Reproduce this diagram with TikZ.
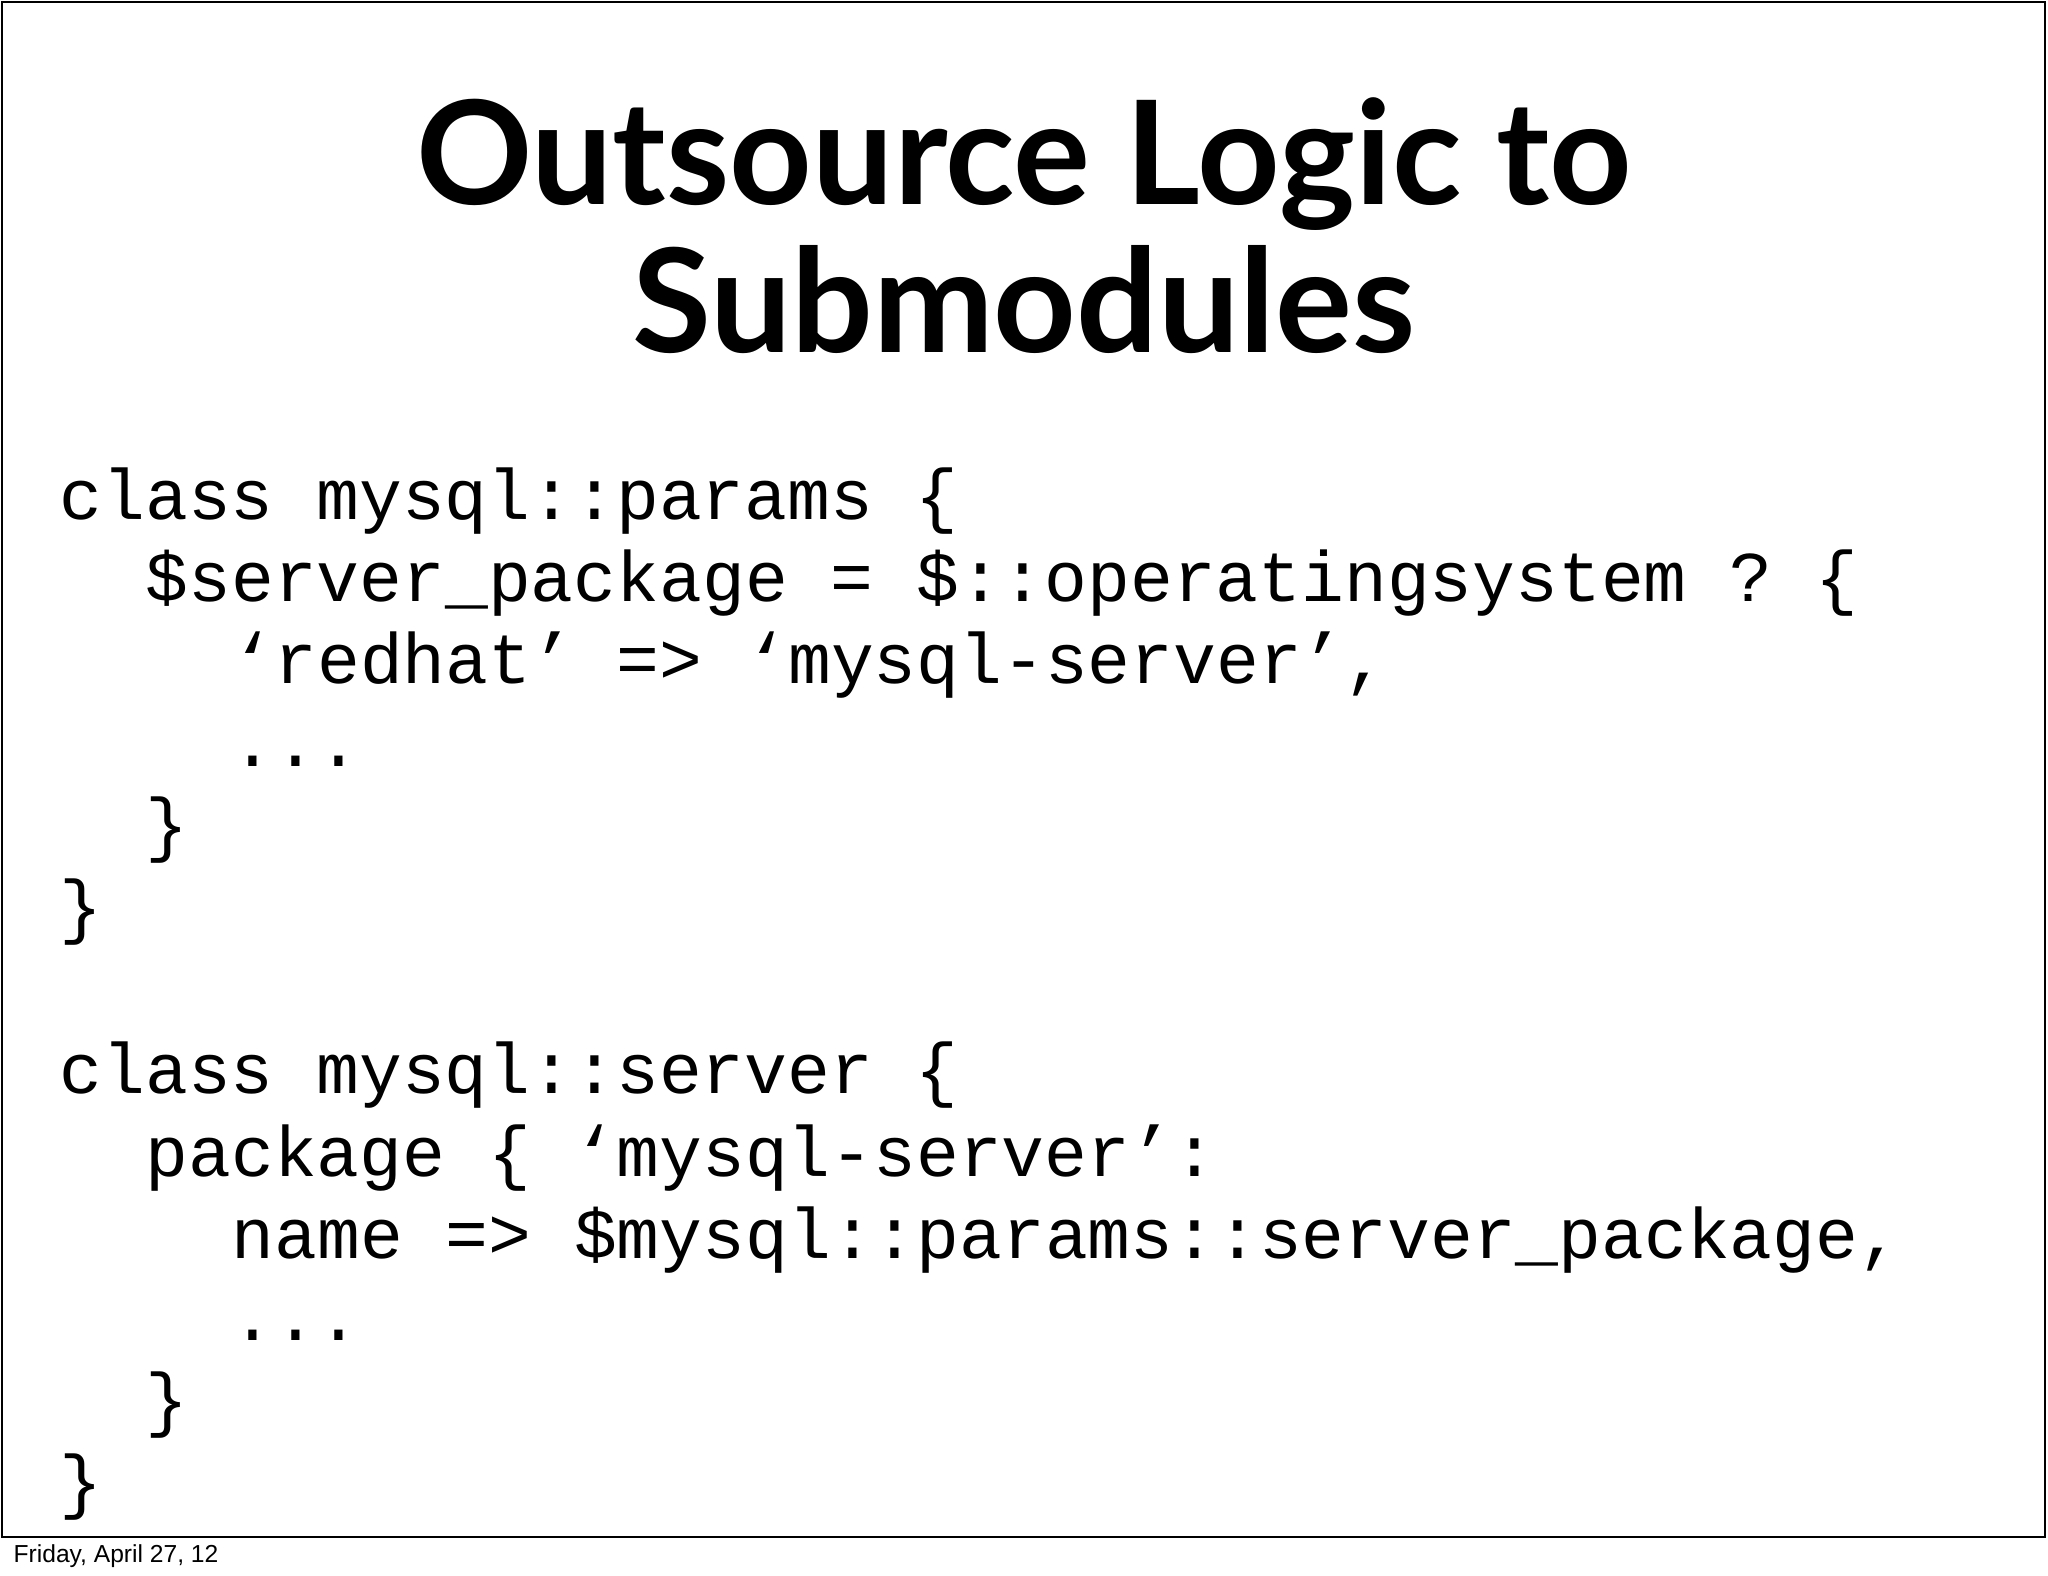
\documentclass[tikz,border=0pt]{standalone}
\usepackage{fontspec}
\setmainfont{Lato}
\setmonofont{Liberation Mono}
\newfontfamily\footfont{Liberation Sans}
\begin{document}
\begin{tikzpicture}[x=1cm,y=1cm,
  codeline/.style={anchor=base west,inner sep=0pt,font=\ttfamily\fontsize{20.3}{24}\selectfont},
  titleline/.style={anchor=base,inner sep=0pt,font=\fontsize{41}{48}\selectfont\bfseries}]
\useasboundingbox (0,0) rectangle (20.48,15.76);
\fill[white] (0,0) rectangle (20.48,15.76);
\draw[line width=0.6pt] (0.02,0.39) rectangle (20.45,15.74);
\node[titleline] (t1) at (10.24,13.71) {Outsource Logic to};
\node[titleline] (t2) at (10.24,12.23) {Submodules};
\def\cw{0.43}
\node[codeline] (l1) at (0.59,10.56) {class mysql::params \{};
\node[codeline] (l2) at (0.59+2*\cw,9.74) {\$server\_package = \$::operatingsystem ? \{};
\node[codeline] (l3) at (0.59+4*\cw,8.92) {‘redhat’ => ‘mysql-server’,};
\node[codeline] (l4) at (0.59+4*\cw,8.09) {...};
\node[codeline] (l5) at (0.59+2*\cw,7.27) {\}};
\node[codeline] (l6) at (0.59,6.45) {\}};
\node[codeline] (l7) at (0.59,4.82) {class mysql::server \{};
\node[codeline] (l8) at (0.59+2*\cw,3.99) {package \{ ‘mysql-server’:};
\node[codeline] (l9) at (0.59+4*\cw,3.17) {name => \$mysql::params::server\_package,};
\node[codeline] (l10) at (0.59+4*\cw,2.35) {...};
\node[codeline] (l11) at (0.59+2*\cw,1.52) {\}};
\node[codeline] (l12) at (0.59,0.70) {\}};
\node[anchor=base west,inner sep=0pt,font=\footfont\fontsize{7}{8}\selectfont] (foot) at (0.13,0.13) {Friday, April 27, 12};
\end{tikzpicture}
\end{document}
